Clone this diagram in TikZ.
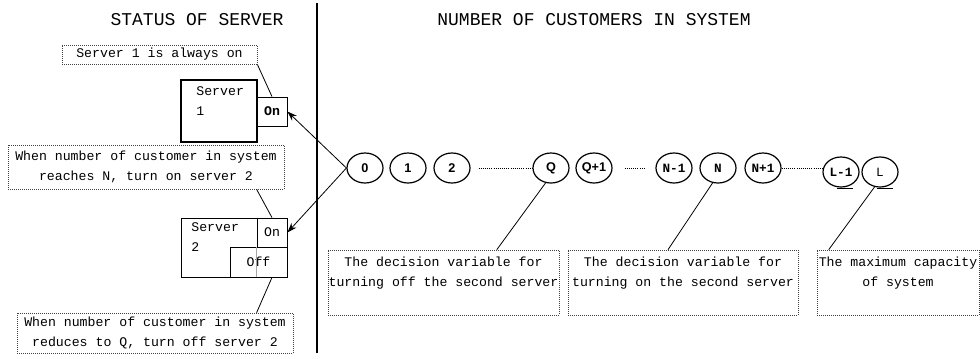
\documentclass[tikz,border=0pt]{standalone}
\usepackage{fontspec}
\setmonofont{Liberation Mono}
\setsansfont{Liberation Sans}
\usepackage{tikz}
\usetikzlibrary{calc,shapes,positioning}
\usetikzlibrary{arrows.meta}
\tikzset{>={Stealth[width=1.8mm,length=2.6mm]}}

\begin{document}
\begin{tikzpicture}[x=0.75pt,y=-0.75pt,line width=0.6pt]
        \tikzstyle{snode} = [draw=black, line width=0.9pt, ellipse, minimum width=27pt, minimum height=22.5pt, inner sep=0pt, font=\fontsize{9.5}{10}\selectfont\ttfamily\bfseries]
        \tikzstyle{sfnode} = [snode, font=\fontsize{9.5}{10}\selectfont\sffamily\bfseries]
        \tikzstyle{dbox} = [draw=black!75, line width=0.5pt, densely dotted, rectangle, inner sep=0pt, align=center, font=\fontsize{9.9}{15}\selectfont\ttfamily]
        \tikzstyle{btext} = [align=center, inner sep=0pt, font=\fontsize{9.9}{15}\selectfont\ttfamily]
        \tikzstyle{ttext} = [inner sep=0pt, font=\fontsize{13.5}{16}\selectfont\ttfamily]
        \tikzstyle{sbox} = [draw=black, rectangle, inner sep=0pt]

        \useasboundingbox (0,0) rectangle (980,358);

        % headings and divider
        \node[ttext] (stitle) at (197,20) {STATUS OF SERVER};
        \node[ttext] (ctitle) at (594,20) {NUMBER OF CUSTOMERS IN SYSTEM};
        \draw[line width=0.8pt] (317,3) -- (317,353);

        % server 1
        \node[sbox, line width=1.2pt, minimum width=57pt, minimum height=46.5pt] (srv1) at (219,111) {};
        \node[btext, align=left, anchor=north west] (lbl1) at (196,86) {Server\\1};
        \node[sbox, minimum width=22.5pt, minimum height=21.75pt, font=\fontsize{9.9}{12}\selectfont\ttfamily\bfseries] (on1) at (272,111.5) {On};

        % server 2
        \node[sbox, minimum width=79.5pt, minimum height=44.25pt] (srv2) at (234,247.5) {};
        \node[btext, align=left, anchor=north west] (lbl2) at (191,222) {Server\\2};
        \node[sbox, minimum width=22.5pt, minimum height=21.75pt, font=\fontsize{9.9}{12}\selectfont\ttfamily] (on2) at (272,232.5) {On};
        \node[sbox, minimum width=42.75pt, minimum height=22.5pt, font=\fontsize{9.9}{12}\selectfont\ttfamily] (off2) at (258.5,262) {Off};
        \draw[black!35, line width=0.4pt] (on2.south west) -- (on2.south west |- off2.south);

        % notes on the server side
        \node[dbox, minimum width=146.25pt, minimum height=14.25pt] (always) at (159.5,54.5) {Server 1 is always on};
        \node[dbox, minimum width=207pt, minimum height=33pt] (reachn) at (146,167) {When number of customer in system\\reaches N, turn on server 2};
        \node[dbox, minimum width=207pt, minimum height=30pt] (reduceq) at (155,333) {When number of customer in system\\ reduces to Q, turn off server 2};

        \draw (always.south east) -- (on1.north);
        \draw (reachn.south -| on2.west) -- (on2.north);
        \draw (off2.south -| on2.north) -- (reduceq.north -| on2.west);

        % customers in system
        \node[sfnode] (s0) at (365,168) {0};
        \node[sfnode] (s1) at (408,168) {1};
        \node[sfnode] (s2) at (452,168) {2};
        \node[sfnode] (sQ) at (551,168) {Q};
        \node[sfnode] (sQp) at (594,168) {Q+1};
        \node[snode] (sNm) at (674,168) {N-1};
        \node[snode] (sN) at (718,168) {N};
        \node[snode] (sNp) at (763,168) {N+1};
        \node[snode] (sLm) at (841,172) {L-1};
        \node[snode, font=\fontsize{9.5}{10}\selectfont\ttfamily] (sL) at (880,172) {L};

        \draw[densely dotted] (s2.east) ++(8,0) -- (sQ.west);
        \draw[densely dotted, shorten <=9, shorten >=8] (sQp.east) -- (sNm.west);
        \draw[densely dotted] (sNp.east) -- (sNp.east -| sLm.west);
        \draw[line width=1.2pt] ($(sLm.south)+(-4,1)$) -- ++(16,0);
        \draw[line width=1.2pt] ($(sL.south)+(-3,1)$) -- ++(16,0);

        \draw[->] (s0.west) -- (on1.east);
        \draw[->] (s0.west) -- (on2.east);

        % decision variables
        \node[dbox, minimum width=173.25pt, minimum height=48.75pt] (offvar) at (443.5,282.5) {};
        \node[btext, below=5pt of offvar.north] (offtxt) {The decision variable for\\turning off the second server};
        \node[dbox, minimum width=172.5pt, minimum height=48.75pt] (onvar) at (683,282.5) {};
        \node[btext, below=5pt of onvar.north] (ontxt) {The decision variable for\\turning on the second server};
        \node[dbox, minimum width=121.5pt, minimum height=48.75pt] (capvar) at (898,282.5) {};
        \node[btext, below=5pt of capvar.north] (captxt) {The maximum capacity\\of system};

        \draw (sQ.250) -- ($(offvar.north west)!0.73!(offvar.north east)$);
        \draw (sN.250) -- ($(onvar.north west)!0.435!(onvar.north east)$);
        \draw (sL.250) -- ($(capvar.north west)!0.074!(capvar.north east)$);
      \end{tikzpicture}
\end{document}
